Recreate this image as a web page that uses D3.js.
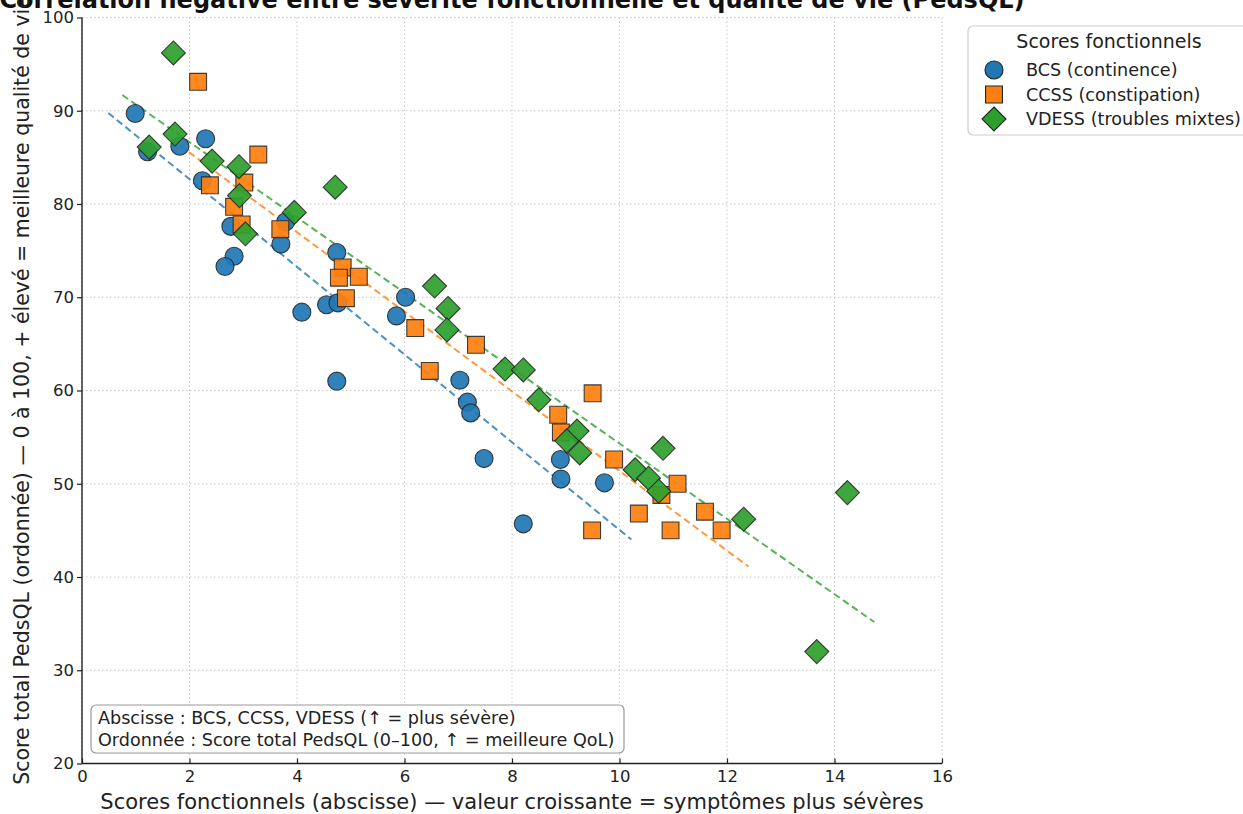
<!DOCTYPE html>
<html>
<head>
<meta charset="utf-8">
<script src="https://cdn.jsdelivr.net/npm/d3@7"></script>
<style>
  html, body { margin: 0; padding: 0; background: #fff; overflow: hidden; }
  svg { display: block; font-family: "DejaVu Sans", sans-serif; }
</style>
</head>
<body>
<svg id="chart" width="1243" height="814"></svg>
<script>
// Functional scores (x) and PedsQL total score (y) per group
const bcsX   = [0.99, 1.22, 1.82, 2.30, 2.24, 2.77, 2.83, 2.66, 3.70, 3.79, 4.74, 4.09, 4.55, 4.76, 4.74, 6.02, 5.85, 7.03, 7.17, 7.23, 7.48, 8.21, 8.90, 8.91, 9.72];
const bcsY   = [89.7, 85.6, 86.2, 87.0, 82.5, 77.6, 74.4, 73.3, 75.7, 78.1, 74.8, 68.4, 69.2, 69.4, 61.0, 70.0, 68.0, 61.1, 58.75, 57.6, 52.7, 45.7, 52.6, 50.5, 50.1];
const ccssX  = [2.16, 3.28, 2.38, 3.02, 2.83, 2.97, 3.69, 4.85, 4.78, 5.15, 4.91, 6.20, 7.33, 6.47, 8.86, 9.50, 8.91, 9.49, 9.90, 10.78, 11.08, 10.36, 10.95, 11.59, 11.90];
const ccssY  = [93.1, 85.3, 82.0, 82.3, 79.7, 77.8, 77.3, 73.2, 72.1, 72.2, 69.9, 66.7, 64.9, 62.1, 57.4, 59.7, 55.5, 45.0, 52.6, 48.8, 50.0, 46.8, 45.0, 47.0, 45.0];
const vdessX = [1.70, 1.25, 1.73, 2.42, 2.92, 2.93, 3.04, 3.95, 4.71, 6.56, 6.81, 6.79, 7.87, 8.21, 8.50, 9.21, 9.02, 9.26, 10.81, 10.29, 10.54, 10.73, 12.31, 14.24, 13.67];
const vdessY = [96.2, 86.1, 87.5, 84.6, 84.0, 80.9, 76.8, 79.1, 81.8, 71.2, 68.8, 66.5, 62.3, 62.2, 59.0, 55.65, 54.6, 53.3, 53.8, 51.5, 50.6, 49.2, 46.2, 49.05, 32.0];

const seriesNames = ["BCS (continence)", "CCSS (constipation)", "VDESS (troubles mixtes)"];
const xTicks = [0, 2, 4, 6, 8, 10, 12, 14, 16];
const yTicks = [20, 30, 40, 50, 60, 70, 80, 90, 100];

const colors = ["#1f77b4", "#ff7f0e", "#2ca02c"];

// circle, square, and a square turned 45° for the diamond
function markerPath(kind) {
  if (kind === 0) return d3.symbol().type(d3.symbolCircle).size(255)();
  if (kind === 1) return d3.symbol().type(d3.symbolSquare).size(285)();
  const r = 12;
  return `M0,${-r}L${r},0L0,${r}L${-r},0Z`;
}

const series = [
  { name: seriesNames[0], xs: bcsX,   ys: bcsY },
  { name: seriesNames[1], xs: ccssX,  ys: ccssY },
  { name: seriesNames[2], xs: vdessX, ys: vdessY }
];

const svg = d3.select("#chart");
const M = { left: 82, right: 942, top: 17.5, bottom: 763.5 };

const x = d3.scaleLinear().domain([0, 16]).range([M.left, M.right]);
const y = d3.scaleLinear().domain([20, 100]).range([M.bottom, M.top]);

// grid
const grid = svg.append("g").attr("stroke", "#c8c8c8").attr("stroke-width", 1).attr("stroke-dasharray", "1.5,2.5");
xTicks.forEach(t => grid.append("line").attr("x1", x(t)).attr("x2", x(t)).attr("y1", M.top).attr("y2", M.bottom));
yTicks.forEach(t => grid.append("line").attr("x1", M.left).attr("x2", M.right).attr("y1", y(t)).attr("y2", y(t)));

// axes
const xAxis = svg.append("g").attr("transform", `translate(0,${M.bottom})`)
  .call(d3.axisBottom(x).tickValues(xTicks).tickSize(-5).tickPadding(7).tickFormat(d3.format("d")));
const yAxis = svg.append("g").attr("transform", `translate(${M.left},0)`)
  .call(d3.axisLeft(y).tickValues(yTicks).tickSize(5).tickPadding(3).tickFormat(d3.format("d")));
[xAxis, yAxis].forEach(a => {
  a.selectAll("text").attr("font-size", 16.5).attr("fill", "#222").attr("font-family", "DejaVu Sans, sans-serif");
  a.selectAll("line").attr("stroke", "#222").attr("stroke-width", 1.2);
  a.select(".domain").attr("stroke", "#222").attr("stroke-width", 1.4);
});
xAxis.selectAll("text").attr("dy", "0.71em").attr("y", 7);
xAxis.select(".domain").attr("d", `M${M.left},0H${M.right}`);
yAxis.select(".domain").attr("d", `M0,${M.bottom}V${M.top}`);

// least-squares trend line for each group, drawn a bit beyond the data range
function fit(xs, ys) {
  const mx = d3.mean(xs), my = d3.mean(ys);
  let sxy = 0, sxx = 0;
  xs.forEach((v, i) => { sxy += (v - mx) * (ys[i] - my); sxx += (v - mx) * (v - mx); });
  const b = sxy / sxx;
  return { a: my - b * mx, b };
}
const plot = svg.append("g");
series.forEach((s, i) => {
  const f = fit(s.xs, s.ys);
  const x0 = d3.min(s.xs) - 0.5, x1 = d3.max(s.xs) + 0.5;
  plot.append("line")
    .attr("x1", x(x0)).attr("y1", y(f.a + f.b * x0))
    .attr("x2", x(x1)).attr("y2", y(f.a + f.b * x1))
    .attr("stroke", colors[i]).attr("stroke-width", 2).attr("stroke-opacity", 0.8)
    .attr("stroke-dasharray", "7,4");
});

// markers
series.forEach((s, i) => {
  plot.append("g").selectAll("path").data(s.xs.map((v, k) => [v, s.ys[k]])).join("path")
    .attr("d", markerPath(i))
    .attr("transform", d => `translate(${x(d[0])},${y(d[1])})`)
    .attr("fill", colors[i]).attr("fill-opacity", 0.92)
    .attr("stroke", "#222").attr("stroke-opacity", 0.85).attr("stroke-width", 1.1);
});

// title
svg.append("text").attr("x", 512).attr("y", 8).attr("text-anchor", "middle")
  .attr("font-size", 24).attr("font-weight", "bold").attr("fill", "#111")
  .text("Corrélation négative entre sévérité fonctionnelle et qualité de vie (PedsQL)");

// axis labels
svg.append("text").attr("x", 512).attr("y", 809).attr("text-anchor", "middle")
  .attr("font-size", 21).attr("fill", "#222")
  .text("Scores fonctionnels (abscisse) — valeur croissante = symptômes plus sévères");
svg.append("text").attr("transform", `translate(29,${(M.top + M.bottom) / 2}) rotate(-90)`)
  .attr("text-anchor", "middle").attr("font-size", 20.5).attr("fill", "#222")
  .text("Score total PedsQL (ordonnée) — 0 à 100, + élevé = meilleure qualité de vie");

// annotation box
const note = svg.append("g");
note.append("rect").attr("x", 91).attr("y", 705).attr("width", 533).attr("height", 48)
  .attr("rx", 5).attr("fill", "#fff").attr("fill-opacity", 0.85).attr("stroke", "#999").attr("stroke-width", 1.2);
note.append("text").attr("x", 98).attr("y", 724).attr("font-size", 17.6).attr("fill", "#222")
  .text("Abscisse : BCS, CCSS, VDESS (↑ = plus sévère)");
note.append("text").attr("x", 98).attr("y", 746).attr("font-size", 17.6).attr("fill", "#222")
  .text("Ordonnée : Score total PedsQL (0–100, ↑ = meilleure QoL)");

// legend
const leg = svg.append("g");
leg.append("rect").attr("x", 968).attr("y", 26).attr("width", 290).attr("height", 109)
  .attr("rx", 5).attr("fill", "#fff").attr("stroke", "#ccc").attr("stroke-width", 1.2);
leg.append("text").attr("x", 1109).attr("y", 48).attr("text-anchor", "middle")
  .attr("font-size", 19).attr("fill", "#222").text("Scores fonctionnels");
series.forEach((s, i) => {
  const yy = 70 + i * 24.5;
  leg.append("path").attr("d", markerPath(i))
    .attr("transform", `translate(994,${yy})`)
    .attr("fill", colors[i]).attr("stroke", "#222").attr("stroke-width", 1.1);
  leg.append("text").attr("x", 1026).attr("y", yy + 6).attr("font-size", 17.6).attr("fill", "#222").text(s.name);
});
</script>
</body>
</html>
